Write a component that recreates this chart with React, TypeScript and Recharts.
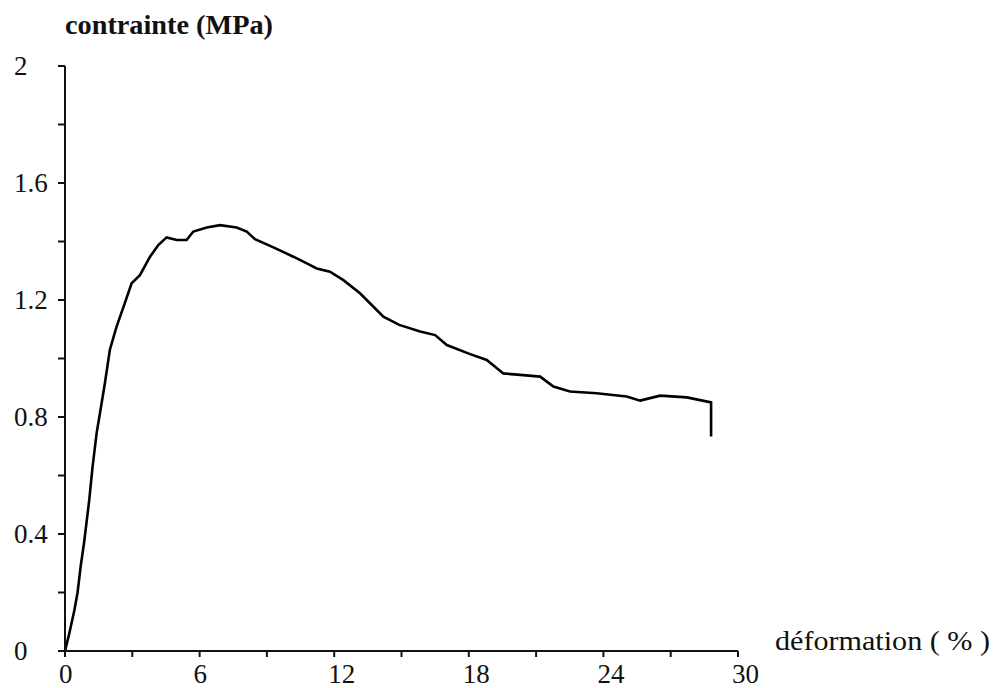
import React from 'react';
import { LineChart, Line, XAxis, YAxis } from 'recharts';

// strain (%) and stress (MPa)
const strain = [
  0, 0.19, 0.42, 0.56, 0.7, 0.85, 1.08, 1.23, 1.41, 1.53, 1.78, 2.0, 2.3, 2.67, 2.97,
  3.34, 3.79, 4.16, 4.53, 4.98, 5.42, 5.72, 6.32, 6.91, 7.65, 8.1, 8.47, 9.29, 10.18,
  10.78, 11.22, 11.81, 12.41, 13.15, 13.75, 14.19, 14.9, 15.83, 16.5, 17.02, 18.06,
  18.8, 19.54, 20.29, 21.18, 21.77, 22.51, 23.7, 25.04, 25.64, 26.53, 27.72, 28.8, 28.8,
];
const stress = [
  0, 0.06, 0.14, 0.2, 0.29, 0.37, 0.516, 0.63, 0.745, 0.8, 0.916, 1.03, 1.109, 1.19, 1.257,
  1.285, 1.348, 1.388, 1.414, 1.405, 1.405, 1.434, 1.448, 1.456, 1.448, 1.434, 1.408, 1.38, 1.348,
  1.325, 1.308, 1.297, 1.268, 1.223, 1.177, 1.143, 1.115, 1.092, 1.08, 1.046, 1.015,
  0.995, 0.949, 0.944, 0.938, 0.904, 0.887, 0.881, 0.87, 0.856, 0.873, 0.867, 0.85, 0.733,
];
const xTicks = [0, 3, 6, 9, 12, 15, 18, 21, 24, 27, 30];
const yTicks = [0, 0.2, 0.4, 0.6, 0.8, 1, 1.2, 1.4, 1.6, 1.8, 2];

const data = strain.map((x, i) => ({ x, y: stress[i] }));

const FONT = '"Liberation Serif", "Times New Roman", serif';

const XTick = (props: any) => {
  const { x, y, payload } = props;
  const v = payload.value;
  if (v % 6 !== 0) return null;
  return (
    <text x={x - 6} y={y + 24} fontFamily={FONT} fontSize={27} fill="#111" textAnchor="start">
      {v}
    </text>
  );
};

const YTick = (props: any) => {
  const { y, payload } = props;
  const v = payload.value;
  if (Math.round(v * 10) % 4 !== 0) return null;
  return (
    <text x={14} y={y + 9} fontFamily={FONT} fontSize={27} fill="#111" textAnchor="start">
      {String(Math.round(v * 10) / 10)}
    </text>
  );
};

export default function App() {
  return (
    <div style={{ position: 'absolute', left: 0, top: 0, width: 997, height: 688, background: '#fff' }}>
      <LineChart width={997} height={688} data={data} margin={{ top: 66, right: 259, bottom: 7, left: 0 }}>
        <XAxis
          dataKey="x"
          type="number"
          domain={[0, 30]}
          ticks={xTicks}
          height={30}
          stroke="#111"
          strokeWidth={2}
          tickSize={6}
          tick={<XTick />}
          interval={0}
        />
        <YAxis
          type="number"
          domain={[0, 2]}
          ticks={yTicks}
          width={65}
          stroke="#111"
          strokeWidth={2}
          tickSize={7}
          tick={<YTick />}
          interval={0}
        />
        <Line
          type="linear"
          dataKey="y"
          stroke="#000"
          strokeWidth={2.6}
          dot={false}
          isAnimationActive={false}
        />
      </LineChart>
      <svg width={997} height={688} style={{ position: 'absolute', left: 0, top: 0, pointerEvents: 'none' }}>
        <text x={65} y={34} fontFamily={FONT} fontSize={27} fontWeight="bold" fill="#111"
          textLength={208} lengthAdjust="spacingAndGlyphs">
          contrainte (MPa)
        </text>
        <text x={775} y={650} fontFamily={FONT} fontSize={27} fill="#111"
          textLength={215} lengthAdjust="spacingAndGlyphs">
          déformation ( % )
        </text>
      </svg>
    </div>
  );
}
